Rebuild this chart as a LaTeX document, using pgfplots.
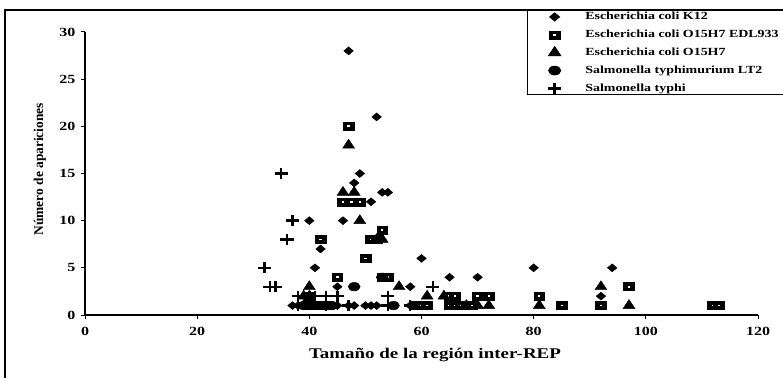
\documentclass[border=0pt]{standalone}
\usepackage{fontspec}
\setmainfont{Liberation Serif}
\newfontfamily\widefont[FakeStretch=1.28, BoldFeatures={FakeStretch=1.28}]{Liberation Serif}
\usepackage{pgfplots}
\pgfplotsset{compat=1.18}
\pgfdeclareplotmark{sqdot}{%
  \pgfpathrectangle{\pgfqpoint{-\pgfplotmarksize}{-\pgfplotmarksize}}{\pgfqpoint{2\pgfplotmarksize}{2\pgfplotmarksize}}%
  \pgfusepathqfillstroke
  \begin{pgfscope}
  \pgfsetfillcolor{white}%
  \pgfpathrectangle{\pgfqpoint{-0.22\pgfplotmarksize}{-0.22\pgfplotmarksize}}{\pgfqpoint{0.44\pgfplotmarksize}{0.44\pgfplotmarksize}}%
  \pgfusepathqfill
  \end{pgfscope}
}
\begin{document}
\begin{tikzpicture}[x=1pt,y=1pt]
\useasboundingbox (0,0) rectangle (783,378);
\draw[line width=1.2pt] (5,0) -- (5,368) -- (783,368);
\begin{axis}[
  at={(85pt,63pt)}, anchor=south west,
  scale only axis, width=673pt, height=283pt,
  xmin=0, xmax=120, ymin=0, ymax=30,
  axis lines=left, axis line style={-, line width=1.2pt},
  xtick={0,20,...,120}, ytick={0,5,...,30},
  tick align=outside, major tick length=4pt,
  tick style={line width=1pt, black},
  /pgf/number format/assume math mode=true,
  ticklabel style={font=\widefont\bfseries\fontsize{12.5}{14}\selectfont},
  xticklabel style={yshift=-5pt},
  yticklabel style={xshift=-2pt},
  xlabel={Tamaño de la región inter-REP},
  ylabel={Número de apariciones},
  xlabel style={font=\widefont\bfseries\fontsize{14.8}{16}\selectfont, at={(axis description cs:0.52,-0.141)}, anchor=center},
  ylabel style={font=\bfseries\fontsize{13.4}{15}\selectfont, at={(axis description cs:-0.0669,0.515)}, anchor=center},
  clip=false,
  legend style={at={(0.657,1.078)}, anchor=north west, draw=black, line width=1pt,
    font=\widefont\bfseries\fontsize{10.9}{12}\selectfont, fill=white,
    row sep=4.8pt, inner ysep=0pt,
    /tikz/every odd column/.append style={column sep=22pt}},
  legend cell align=left,
  legend image code/.code={\path[draw=none,fill=none] (0pt,0pt) -- (1pt,0pt); \draw[#1] plot coordinates {(24pt,0pt)};},
]
% K12
\addplot[only marks, mark=diamond*, mark size=4pt, mark options={xscale=1.6}, black] coordinates {
(47,28)(52,21)(49,15)(48,14)(53,13)(54,13)(51,12)(40,10)(46,10)(42,7)(60,6)(41,5)(80,5)(94,5)(65,4)(70,4)(45,3)(58,3)(92,2)
(37,1)(38,1)(39,1)(41,1)(42,1)(43,1)(44,1)(45,1)(47,1)(48,1)(50,1)(51,1)(52,1)(55,1)(58,1)
};
\addlegendentry{\makebox[205pt][l]{Escherichia coli K12}}
% EDL933
\addplot[only marks, mark=sqdot, mark size=4pt, mark options={xscale=1.35}, black, line width=0.6pt] coordinates {
(47,20)(46,12)(47.5,12)(49,12)(53,9)(42,8)(51,8)(52,8)(50,6)(45,4)(53,4)(54,4)(65,2)(66,2)(70,2)(72,2)(81,2)(97,3)
(85,1)(92,1)(112,1)(113,1)(59,1)(60,1)(61,1)(65,1)(66,1)(67,1)(68,1)(69,1)(40,1)(41,1)(43,1)(40,2)
};
\addlegendentry{Escherichia coli O15H7 EDL933}
% O157
\addplot[only marks, mark=triangle*, mark size=6pt, mark options={xscale=1.15}, black] coordinates {
(47,18)(46,13)(48,13)(49,10)(52,8)(53,8)(56,3)(61,2)(64,2)(40,3)(40,2)(39,2)(40,1)(39,1)(41,1)(92,3)(81,1)(97,1)(70,1)(72,1)(68,1)
};
\addlegendentry{Escherichia coli O15H7}
% LT2
\addplot[only marks, mark=*, mark size=4.3pt, mark options={xscale=1.4}, black] coordinates {
(48,3)(55,1)(53,4)(39,1)(40,1)(42,1)(44,1)
};
\addlegendentry{Salmonella typhimurium LT2}
% typhi
\addplot[only marks, mark=+, mark size=5.5pt, mark options={xscale=1.2}, black, line width=2.4pt] coordinates {
(35,15)(37,10)(36,8)(32,5)(33,3)(34,3)(38,2)(40,2)(41,2)(43,2)(45,2)(54,2)(62,3)(38,1)(43,1)(47,1)(54,1)(58,1)
};
\addlegendentry{Salmonella typhi}
\end{axis}
\end{tikzpicture}
\end{document}
